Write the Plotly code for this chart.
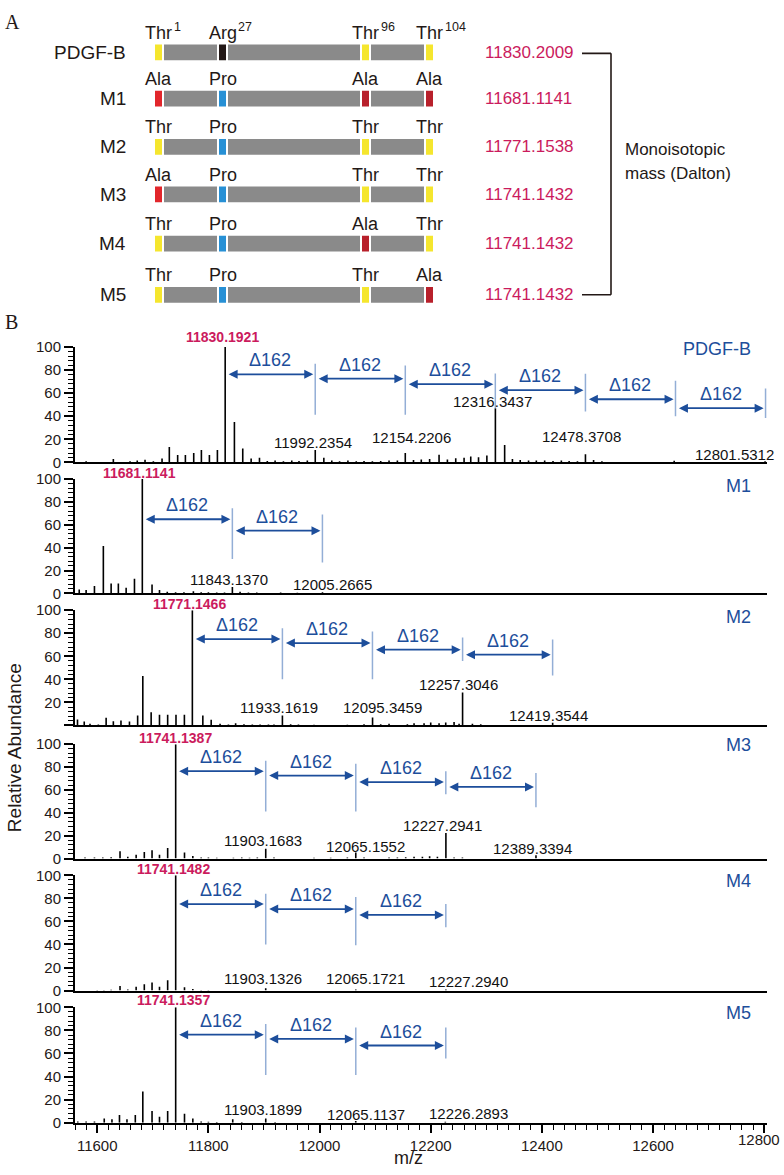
import plotly.graph_objects as go

W, H = 784, 1175
SANS = "Liberation Sans, Arial, Helvetica, sans-serif"
SERIF = "Liberation Serif, Times New Roman, serif"
BLUE = "#1D4E9B"
LIGHT_BLUE = "#93AED6"
MAGENTA = "#CB1B5D"
GRAY = "#8A8A8A"
INK = "#231816"

# ---------------- Panel A: constructs ----------------
construct_names = ["PDGF-B", "M1", "M2", "M3", "M4", "M5"]
monoisotopic_mass = ["11830.2009", "11681.1141", "11771.1538",
                     "11741.1432", "11741.1432", "11741.1432"]
site_numbers = ["1", "27", "96", "104"]
construct_residues = [
    ["Thr", "Arg", "Thr", "Thr"],
    ["Ala", "Pro", "Ala", "Ala"],
    ["Thr", "Pro", "Thr", "Thr"],
    ["Ala", "Pro", "Thr", "Thr"],
    ["Thr", "Pro", "Ala", "Thr"],
    ["Thr", "Pro", "Thr", "Ala"],
]
residue_colors = {"Thr": "#F5E62E", "Arg": "#231816", "Pro": "#2790D5", "Ala": "#B8202B"}
ala_first_color = "#E2262B"

# ---------------- Panel B: spectra ----------------
spectrum_names = ["PDGF-B", "M1", "M2", "M3", "M4", "M5"]

pdgfb_mz = [11580, 11629, 11659, 11672, 11686, 11701, 11716.6, 11729.7, 11744.7, 11758.6,
            11773.6, 11787.4, 11801.8, 11816.2, 11830.19, 11846.8, 11861.8, 11876.9, 11891.9,
            11906, 11920, 11935, 11950, 11963, 11978, 11992.24, 12007.7, 12022, 12036, 12051,
            12066, 12080, 12095, 12110, 12125, 12140, 12154.22, 12169, 12183, 12198, 12215,
            12230, 12245, 12260, 12272, 12286, 12301, 12316.34, 12333, 12347, 12361, 12376,
            12390, 12405, 12420, 12435, 12449, 12464, 12478.37, 12493, 12508, 12638, 12801.53]
pdgfb_int = [1, 3, 1, 1.5, 2.3, 1, 3.4, 13.4, 6.3, 6.3,
             8, 10.8, 6.3, 10.8, 100, 35, 12, 3.4, 4,
             1.2, 1.5, 1, 1.5, 1.2, 1.5, 10.8, 4, 1.5, 1, 1.5,
             1, 1.2, 1, 1.2, 1.5, 1.5, 8, 2, 2.5, 3, 6.5,
             2.5, 3.5, 4, 5, 4.5, 6, 47, 15, 3, 2, 1.5,
             1.5, 1.5, 1.2, 1.5, 1.2, 1, 7, 2, 1, 1.4, 1]

m1_mz = [11567.6, 11580, 11595, 11611, 11625, 11638, 11652, 11667, 11681.11, 11698.6,
         11712, 11726, 11741, 11756, 11773, 11787, 11800, 11815, 11829, 11843.14, 11857,
         11872, 11887, 11930, 11960, 12005.27]
m1_int = [3.4, 2.9, 6.6, 41.4, 8.6, 8.6, 4.9, 12.9, 100, 7.7,
          2.9, 1.5, 1, 1, 2, 1, 1, 0.8, 0.8, 5.7, 1.4,
          0.8, 0.8, 0.8, 0.6, 1]

m2_mz = [11564.5, 11576.6, 11587, 11602, 11616, 11629, 11642.7, 11658, 11672.7, 11682,
         11697, 11712, 11726.7, 11741.7, 11756.8, 11771.15, 11790, 11805, 11821, 11836,
         11849, 11864, 11879, 11893, 11908, 11918, 11933.16, 11948, 11962, 11990, 12050,
         12080, 12095.35, 12110, 12125, 12158, 12170, 12188, 12200, 12215, 12227, 12242,
         12251, 12257.30, 12275, 12290, 12419.35]
m2_int = [5.1, 3.4, 1.4, 0.9, 6.6, 3.7, 4.3, 3.4, 8.6, 42.9,
          11.4, 9.4, 9.4, 9.4, 9.4, 100, 8.6, 4.9, 1.4, 0.9,
          2, 1, 0.8, 0.8, 0.8, 0.8, 8.6, 1, 0.8, 0.6, 0.6,
          1, 7, 1, 1.5, 1, 2, 2, 2.5, 2, 2.5, 3,
          1.5, 28.6, 1.5, 1, 2.3]

m3_mz = [11578, 11595, 11610, 11625, 11641, 11655, 11670, 11684.7, 11698.6, 11712,
         11726.7, 11741.14, 11757, 11772, 11787, 11800, 11815, 11845, 11860, 11874,
         11888, 11903.17, 11918, 11990, 12020, 12050, 12065.16, 12080, 12125, 12140,
         12155, 12170, 12185, 12198, 12212, 12227.29, 12242, 12257, 12389.34]
m3_int = [0.8, 0.8, 0.8, 1.2, 6.3, 1.5, 3.4, 5.7, 7.2, 3.4,
          9.2, 100, 5.2, 2.3, 1, 0.8, 0.6, 0.6, 0.8, 0.6,
          0.8, 8.6, 1, 0.6, 0.6, 0.8, 5.2, 0.8, 0.8, 1,
          1.2, 1.5, 1.5, 2, 1.5, 22.3, 1, 0.8, 2.9]

m4_mz = [11600, 11612, 11625, 11641, 11655, 11670, 11684.7, 11698.6, 11712, 11726.7,
         11741.15, 11757, 11772, 11787, 11800, 11903.13, 12065.17, 12227.29]
m4_int = [0.6, 0.6, 0.8, 4, 1, 3.4, 5.4, 7, 3.4, 9,
          100, 2.9, 1.4, 0.6, 0.5, 2, 1, 1]

m5_mz = [11565, 11580, 11595, 11612.6, 11626.5, 11640, 11653.5, 11668.5, 11682, 11698.6,
         11712, 11726.7, 11741.14, 11757, 11772, 11787, 11800, 11815, 11843.8, 11860,
         11903.19, 11920, 12065.11, 12226.29]
m5_int = [1, 1, 1, 3.7, 2.9, 6.6, 2.9, 6.6, 27, 10,
          5.1, 10, 100, 7.7, 3.7, 1, 0.8, 0.6, 2.9, 0.6,
          3.7, 0.6, 1.4, 0.8]

spectra_mz = [pdgfb_mz, m1_mz, m2_mz, m3_mz, m4_mz, m5_mz]
spectra_int = [pdgfb_int, m1_int, m2_int, m3_int, m4_int, m5_int]

main_label_text = ["11830.1921", "11681.1141", "11771.1466", "11741.1387", "11741.1482", "11741.1357"]
main_label_x = [11825.2, 11675.7, 11766.7, 11740.5, 11737.0, 11737.0]

peak_label_text = [
    ["11992.2354", "12154.2206", "12316.3437", "12478.3708", "12801.5312"],
    ["11843.1370", "12005.2665"],
    ["11933.1619", "12095.3459", "12257.3046", "12419.3544"],
    ["11903.1683", "12065.1552", "12227.2941", "12389.3394"],
    ["11903.1326", "12065.1721", "12227.2940"],
    ["11903.1899", "12065.1137", "12226.2893"],
]
peak_label_x = [
    [11987.4, 12166.0, 12311.7, 12472.0, 12746.0],
    [11837.8, 12023.4],
    [11927.9, 12113.5, 12250.5, 12412.6],
    [11899.0, 12082.9, 12221.6, 12383.8],
    [11899.0, 12082.9, 12268.5],
    [11899.0, 12082.9, 12268.5],
]
peak_label_y = [
    [17.1, 21.4, 53.0, 22.2, 7.1],
    [11.8, 7.5],
    [15.2, 15.2, 35.7, 8.6],
    [15.9, 10.7, 28.9, 8.6],
    [10.3, 10.3, 7.9],
    [11.4, 7.1, 7.9],
]

delta_mass = 162
ladder_start = [
    [11830.19, 11992.24, 12154.22, 12316.34, 12478.37, 12640.4],
    [11681.11, 11843.14],
    [11771.15, 11933.16, 12095.35, 12257.30],
    [11741.14, 11903.17, 12065.16, 12227.29],
    [11741.15, 11903.13, 12065.17],
    [11741.14, 11903.19, 12065.11],
]
ladder_level = [
    [76.3, 72.6, 67.8, 62.6, 54.7, 47.0],
    [64.9, 54.9],
    [74.9, 71.5, 65.7, 61.4],
    [76.4, 72.6, 66.9, 62.6],
    [75.0, 70.7, 65.6],
    [76.3, 72.6, 66.9],
]
separator_top = [
    [85.5, 84.0, 77.0, 76.9, 70.7, 64.1],
    [74.4, 69.0],
    [84.3, 81.4, 76.3, 74.6],
    [85.6, 83.0, 76.4, 74.9],
    [84.0, 81.2, 75.0],
    [85.5, 82.6, 82.6],
]
separator_bottom = [
    [41.3, 41.3, 47.0, 44.2, 39.9, 38.5],
    [30.2, 27.0],
    [40.0, 40.0, 56.0, 43.4],
    [41.2, 41.2, 56.2, 44.8],
    [40.0, 39.3, 55.0],
    [41.3, 41.3, 55.6],
]
panel_label_y = [98.3, 94.0, 94.0, 99.0, 94.9, 95.0]

x_range = [11560, 12805]
x_ticks = [11600, 11800, 12000, 12200, 12400, 12600, 12800]
y_major = [0, 20, 40, 60, 80, 100]

# ---------------- layout geometry (pixels) ----------------
panel_px = [(343, 460), (477, 593), (610, 727), (746, 862), (879, 996), (1013, 1130)]
main_label_shift_px = [10, 6.5, 6, 6.5, 6.5, 7]
plot_left_px, plot_right_px = 75, 767

row_center_y = [44, 91, 140, 188, 238, 290]
site_center_x = [158.5, 222.5, 365.5, 429.5]
box_w, bar_h, gap = 7, 16, 2

fig = go.Figure()
shapes = []
annotations = []

# ---------------- Panel A drawing ----------------
fig.update_layout(
    xaxis7=dict(domain=[0, 1], range=[0, W], visible=False, fixedrange=True),
    yaxis7=dict(domain=[1 - 300 / H, 1], range=[300, 0], visible=False, anchor="x7"),
)
fig.add_trace(go.Scatter(x=[100], y=[100], xaxis="x7", yaxis="y7", mode="markers",
                         marker=dict(opacity=0), showlegend=False, hoverinfo="skip"))

for r, name in enumerate(construct_names):
    yc = row_center_y[r]
    for s in range(len(site_center_x) - 1):
        shapes.append(dict(type="rect", xref="x7", yref="y7",
                           x0=site_center_x[s] + box_w / 2 + gap,
                           x1=site_center_x[s + 1] - box_w / 2 - gap,
                           y0=yc - bar_h / 2, y1=yc + bar_h / 2,
                           fillcolor=GRAY, line=dict(width=0), layer="above"))
    for s, res in enumerate(construct_residues[r]):
        col = residue_colors[res]
        if res == "Ala" and s == 0:
            col = ala_first_color
        shapes.append(dict(type="rect", xref="x7", yref="y7",
                           x0=site_center_x[s] - box_w / 2, x1=site_center_x[s] + box_w / 2,
                           y0=yc - bar_h / 2, y1=yc + bar_h / 2,
                           fillcolor=col, line=dict(width=0), layer="above"))
        annotations.append(dict(xref="x7", yref="y7", x=site_center_x[s], y=yc - 20,
                                text=res, showarrow=False, xanchor="center", yanchor="middle",
                                font=dict(family=SANS, size=18, color=INK)))
        if r == 0:
            annotations.append(dict(xref="x7", yref="y7", x=site_center_x[s] + 13, y=yc - 26,
                                    text=site_numbers[s], showarrow=False, xanchor="left",
                                    yanchor="middle", font=dict(family=SANS, size=12.5, color=INK)))
    annotations.append(dict(xref="x7", yref="y7", x=128, y=yc, text=name, showarrow=False,
                            xanchor="right", yanchor="middle",
                            font=dict(family=SANS, size=19, color=INK)))
    annotations.append(dict(xref="x7", yref="y7", x=483, y=yc, text=monoisotopic_mass[r],
                            showarrow=False, xanchor="left", yanchor="middle",
                            font=dict(family=SANS, size=17, color=MAGENTA)))

y_top, y_bot = row_center_y[0] + 1, row_center_y[-1]
for seg in [(582, y_top, 611, y_top), (611, y_top, 611, y_bot), (582, y_bot, 611, y_bot)]:
    shapes.append(dict(type="line", xref="x7", yref="y7", x0=seg[0], y0=seg[1],
                       x1=seg[2], y1=seg[3], line=dict(color=INK, width=1.6)))
annotations.append(dict(xref="x7", yref="y7", x=623, y=143, text="Monoisotopic",
                        showarrow=False, xanchor="left", yanchor="middle",
                        font=dict(family=SANS, size=17, color=INK)))
annotations.append(dict(xref="x7", yref="y7", x=623, y=167, text="mass (Dalton)",
                        showarrow=False, xanchor="left", yanchor="middle",
                        font=dict(family=SANS, size=17, color=INK)))

annotations.append(dict(xref="paper", yref="paper", x=3 / W, y=1 - 13 / H, text="A",
                        showarrow=False, xanchor="left", yanchor="middle",
                        font=dict(family=SERIF, size=20, color=INK)))
annotations.append(dict(xref="paper", yref="paper", x=3 / W, y=1 - 318 / H, text="B",
                        showarrow=False, xanchor="left", yanchor="middle",
                        font=dict(family=SERIF, size=20, color=INK)))

# ---------------- Panel B drawing ----------------
gap_mz = 3.5
for i in range(6):
    sfx = "" if i == 0 else str(i + 1)
    xr, yr = "x" + sfx, "y" + sfx
    top_px, bot_px = panel_px[i]
    xs, ys = [], []
    for m, h in zip(spectra_mz[i], spectra_int[i]):
        xs += [m, m, None]
        ys += [0, h, None]
    fig.add_trace(go.Scatter(x=xs, y=ys, mode="lines", xaxis=xr, yaxis=yr,
                             line=dict(color="black", width=1.6), showlegend=False,
                             hoverinfo="skip"))
    bottom = (i == 5)
    # the last tick label is drawn separately so that it stays inside the page
    x_ticktext = [str(v) for v in x_ticks[:-1]] + [""]
    xa = dict(domain=[plot_left_px / W, plot_right_px / W], range=x_range, anchor=yr,
              showline=True, linecolor="black", linewidth=2, showgrid=False, zeroline=False,
              showticklabels=bottom, ticks="outside" if bottom else "",
              tickmode="array", tickvals=x_ticks, ticktext=x_ticktext,
              ticklen=8, tickwidth=1.6, tickcolor="black",
              tickfont=dict(family=SANS, size=15, color=INK))
    if bottom:
        xa["minor"] = dict(ticks="outside", tickmode="linear", dtick=20, tick0=11600,
                           ticklen=5, tickwidth=1.3, tickcolor="black")
        annotations.append(dict(xref=xr, yref=yr, x=x_ticks[-1], y=0, xshift=-5, yshift=-17,
                                text=str(x_ticks[-1]), showarrow=False, xanchor="center",
                                yanchor="middle", font=dict(family=SANS, size=15, color=INK)))
    ticktext = [str(v) for v in y_major]
    if i == 2:
        ticktext[0] = ""
    ya = dict(domain=[1 - bot_px / H, 1 - top_px / H], range=[0, 100], anchor=xr,
              showline=True, linecolor="black", linewidth=2, showgrid=False, zeroline=False,
              tickmode="array", tickvals=y_major, ticktext=ticktext, ticks="outside",
              ticklen=9, tickwidth=1.6, tickcolor="black",
              tickfont=dict(family=SANS, size=15, color=INK),
              minor=dict(ticks="outside", tickmode="linear", tick0=0, dtick=4, ticklen=5,
                         tickwidth=1.3, tickcolor="black"))
    fig.update_layout(**{"xaxis" + sfx: xa, "yaxis" + sfx: ya})

    annotations.append(dict(xref=xr, yref=yr, x=main_label_x[i], y=100,
                            yshift=main_label_shift_px[i],
                            text="<b>" + main_label_text[i] + "</b>", showarrow=False,
                            xanchor="center", yanchor="middle",
                            font=dict(family=SANS, size=14, color=MAGENTA)))
    for t, lx, ly in zip(peak_label_text[i], peak_label_x[i], peak_label_y[i]):
        annotations.append(dict(xref=xr, yref=yr, x=lx, y=ly, text=t, showarrow=False,
                                xanchor="center", yanchor="middle",
                                font=dict(family=SANS, size=15, color="#111111")))
    for st, lv, stop, sbot in zip(ladder_start[i], ladder_level[i],
                                  separator_top[i], separator_bottom[i]):
        en = st + delta_mass
        annotations.append(dict(xref=xr, yref=yr, axref=xr, ayref=yr,
                                x=en - gap_mz, y=lv, ax=st + gap_mz, ay=lv, text="",
                                showarrow=True, arrowside="end+start", arrowhead=2,
                                startarrowhead=2, arrowsize=1.0, startarrowsize=1.0,
                                arrowwidth=1.8, arrowcolor=BLUE))
        annotations.append(dict(xref=xr, yref=yr, x=(st + en) / 2, y=lv, yshift=14,
                                text="\u0394162", showarrow=False, xanchor="center",
                                yanchor="middle", font=dict(family=SANS, size=18, color=BLUE)))
        shapes.append(dict(type="line", xref=xr, yref=yr, x0=en, x1=en, y0=sbot, y1=stop,
                           line=dict(color=LIGHT_BLUE, width=1.5)))
    annotations.append(dict(xref=xr, yref=yr, x=12779, y=panel_label_y[i],
                            text=spectrum_names[i], showarrow=False, xanchor="right",
                            yanchor="middle", font=dict(family=SANS, size=18, color=BLUE)))

annotations.append(dict(xref="paper", yref="paper", x=14 / W, y=1 - 750 / H,
                        text="Relative Abundance", textangle=-90, showarrow=False,
                        xanchor="center", yanchor="middle",
                        font=dict(family=SANS, size=19, color=INK)))
annotations.append(dict(xref="paper", yref="paper", x=409 / W, y=1 - 1166 / H,
                        text="m/z", showarrow=False, xanchor="center", yanchor="middle",
                        font=dict(family=SANS, size=18, color=INK)))

fig.update_layout(width=W, height=H, margin=dict(l=0, r=0, t=0, b=0),
                  paper_bgcolor="white", plot_bgcolor="white", showlegend=False,
                  shapes=shapes, annotations=annotations)

pin_page = (
    "document.documentElement.style.margin='0';"
    "document.documentElement.style.overflow='hidden';"
    "document.body.style.margin='0';"
    "document.body.style.overflow='hidden';"
    "var g=document.querySelector('.plotly-graph-div');"
    "g.style.position='absolute';g.style.left='0px';g.style.top='0px';"
)
fig.write_html("out.html", config={"displayModeBar": False}, post_script=pin_page)
